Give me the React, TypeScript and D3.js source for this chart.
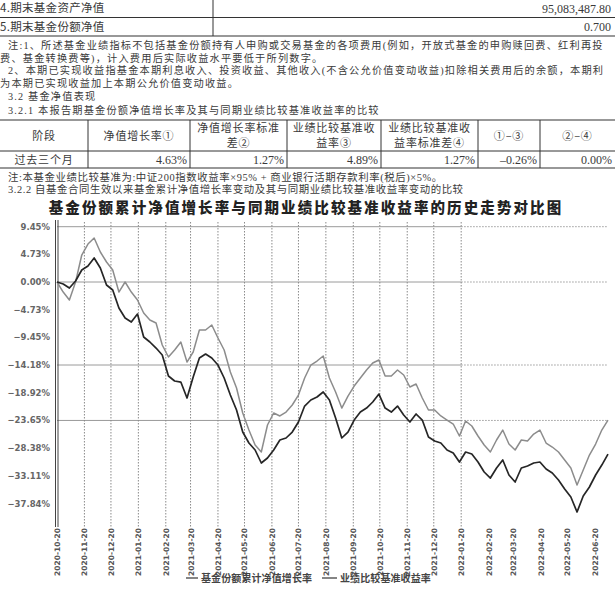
import React from 'react';
import * as d3 from 'd3';

const topRowLabels = ['4.期末基金资产净值', '5.期末基金份额净值'];
const topRowValues = ['95,083,487.80', '0.700'];

const noteLines = [
  '注:1、所述基金业绩指标不包括基金份额持有人申购或交易基金的各项费用(例如，开放式基金的申购赎回费、红利再投',
  '费、基金转换费等)，计入费用后实际收益水平要低于所列数字。',
  '2、本期已实现收益指基金本期利息收入、投资收益、其他收入(不含公允价值变动收益)扣除相关费用后的余额，本期利',
  '为本期已实现收益加上本期公允价值变动收益。',
];
const sectionTitle = '3.2 基金净值表现';
const subTitle1 = '3.2.1 本报告期基金份额净值增长率及其与同期业绩比较基准收益率的比较';
const tableHeaders = [
  ['阶段'],
  ['净值增长率①'],
  ['净值增长率标准', '差②'],
  ['业绩比较基准收', '益率③'],
  ['业绩比较基准收', '益率标准差④'],
  ['①–③'],
  ['②–④'],
];
const tableRow = ['过去三个月', '4.63%', '1.27%', '4.89%', '1.27%', '–0.26%', '0.00%'];
const benchNote = '注:本基金业绩比较基准为:中证200指数收益率×95% + 商业银行活期存款利率(税后)×5%。';
const subTitle2 = '3.2.2 自基金合同生效以来基金累计净值增长率变动及其与同期业绩比较基准收益率变动的比较';
const chartTitle = '基金份额累计净值增长率与同期业绩比较基准收益率的历史走势对比图';

const yTicks = [9.45, 4.73, 0, -4.73, -9.45, -14.18, -18.92, -23.65, -28.38, -33.11, -37.84];
const yGridValues = [9.45, 0, -14.18, -23.65];
const xTickLabels = [
  '2020-10-20', '2020-11-20', '2020-12-20', '2021-01-20', '2021-02-20', '2021-03-20', '2021-04-20',
  '2021-05-20', '2021-06-20', '2021-07-20', '2021-08-20', '2021-09-20', '2021-10-20', '2021-11-20',
  '2021-12-20', '2022-01-20', '2022-02-20', '2022-03-20', '2022-04-20', '2022-05-20', '2022-06-20',
];
const gridTickCount = 16;
const seriesStart = '2020-10-20';
const seriesStepDays = 7;
const legendLabels = ['基金份额累计净值增长率', '业绩比较基准收益率'];

const fundValues = [
  0.0, -0.34, -1.03, 0.17, 2.05, 2.73, 4.1, 2.39, -0.51, -1.37,
  -4.44, -6.15, -6.83, -5.47, -9.4, -10.25, -11.28, -12.47, -16.06, -16.91,
  -17.09, -19.82, -16.23, -12.98, -12.3, -12.98, -14.18, -16.4, -19.31, -21.87,
  -25.63, -27.51, -28.7, -30.92, -30.07, -28.7, -26.99, -26.65, -25.63, -23.92,
  -21.19, -20.16, -19.65, -18.79, -20.16, -23.24, -26.65, -25.63, -23.58, -22.21,
  -21.53, -20.5, -19.14, -21.53, -22.21, -21.19, -22.72, -23.92, -22.55, -23.58,
  -26.48, -27.17, -27.51, -28.7, -29.22, -30.75, -29.04, -29.39, -30.75, -32.46,
  -33.49, -31.78, -30.41, -32.97, -34.17, -31.78, -31.44, -30.92, -30.75, -31.95,
  -32.63, -33.83, -35.37, -36.73, -39.3, -36.56, -35.02, -32.97, -31.27, -29.4,
];
const benchValues = [
  0.0, -1.71, -3.08, 0.0, 4.61, 6.49, 7.52, 5.13, 3.42, 2.05,
  -1.71, 0.0, -1.71, -3.08, -5.3, -6.49, -7.0, -10.76, -12.81, -11.62,
  -10.25, -13.67, -11.96, -8.2, -8.2, -7.35, -9.57, -11.62, -15.38, -18.11,
  -22.38, -25.29, -27.85, -29.04, -24.43, -22.38, -22.89, -22.21, -21.01, -19.31,
  -16.4, -14.18, -13.5, -12.64, -16.4, -18.79, -21.53, -19.48, -17.77, -16.4,
  -15.03, -13.84, -13.33, -16.06, -16.06, -15.03, -15.89, -17.94, -17.43, -19.82,
  -21.87, -21.87, -22.89, -23.58, -24.26, -26.31, -23.75, -24.6, -26.31, -27.85,
  -29.04, -26.99, -25.29, -27.68, -28.7, -26.99, -27.17, -25.97, -25.29, -27.51,
  -28.19, -29.04, -30.41, -31.78, -34.68, -32.12, -29.56, -27.68, -25.29, -23.58,
];

const CJK = '"Noto Sans CJK SC", "Liberation Serif", serif';
const SERIF_CJK = '"Liberation Serif", "Noto Sans CJK SC", serif';
const NUM = '"Liberation Serif", "Noto Sans CJK SC", serif';
const TXT = '#3a3a3a';

export default function App() {
  const W = 615;
  const H = 591;
  const start = d3.timeParse('%Y-%m-%d')(seriesStart) as Date;
  const dates = fundValues.map((_, i) => d3.timeDay.offset(start, i * seriesStepDays));
  const x = d3.scaleTime().domain([dates[0], dates[dates.length - 1]]).range([57, 608]);
  const y = d3.scaleLinear().domain([-37.84, 9.45]).range([503.5, 226.7]);
  const parse = d3.timeParse('%Y-%m-%d');
  const tickX = xTickLabels.map((s) => x(parse(s) as Date));

  const line = d3
    .line<number>()
    .x((_, i) => x(dates[i]))
    .y((d) => y(d))
    .curve(d3.curveLinear);

  const colX = [0, 88, 190, 287, 381, 478, 540, 620];
  const tTop = 120;
  const tMid = 151;
  const tBot = 168;

  const plotLeft = 57;
  const plotRight = 608;
  const solidEnd = tickX[gridTickCount - 1];

  return (
    <svg
      width={W}
      height={H}
      viewBox={`0 0 ${W} ${H}`}
      style={{ position: 'absolute', left: 0, top: 0, background: '#fff' }}
    >
      <rect x={0} y={0} width={W} height={H} fill="#fff" />
      {/* top table */}
      <g fontFamily={CJK} fontSize={11.5} fill={TXT}>
        <line x1={0} x2={W} y1={17.5} y2={17.5} stroke="#333" strokeWidth={1} />
        <line x1={0} x2={W} y1={36} y2={36} stroke="#333" strokeWidth={1.2} />
        <line x1={213} x2={213} y1={0} y2={36} stroke="#333" strokeWidth={1} />
        {topRowLabels.map((t, i) => (
          <text key={t} x={0} y={12 + i * 18.5} letterSpacing={0.3}>
            {t}
          </text>
        ))}
        {topRowValues.map((t, i) => (
          <text key={t} x={611} y={12.5 + i * 18.5} textAnchor="end" fontFamily={NUM} fontSize={12}>
            {t}
          </text>
        ))}
      </g>
      {/* notes */}
      <g fontFamily={SERIF_CJK} fontSize={10.2} fill={TXT} letterSpacing={1.2}>
        {noteLines.map((t, i) => (
          <text key={i} x={i % 2 === 0 ? 8 : 0} y={49 + i * 12.5}>
            {t}
          </text>
        ))}
        <text x={8} y={100}>{sectionTitle}</text>
        <text x={8} y={114}>{subTitle1}</text>
      </g>
      {/* performance table */}
      <g>
        <line x1={0} x2={W} y1={tTop} y2={tTop} stroke="#333" strokeWidth={1.2} />
        <line x1={0} x2={W} y1={tMid} y2={tMid} stroke="#333" strokeWidth={1} />
        <line x1={0} x2={W} y1={tBot} y2={tBot} stroke="#333" strokeWidth={1.2} />
        {colX.slice(1, -1).map((cx) => (
          <line key={cx} x1={cx} x2={cx} y1={tTop} y2={tBot} stroke="#333" strokeWidth={1} />
        ))}
        {tableHeaders.map((lines, ci) => {
          const cx = (colX[ci] + Math.min(colX[ci + 1], W)) / 2;
          return lines.map((t, li) => (
            <text
              key={ci + '-' + li}
              x={cx}
              y={lines.length === 1 ? 140 : 132 + li * 15}
              textAnchor="middle"
              fontFamily={CJK}
              fontSize={11}
              letterSpacing={0.8}
              fill={TXT}
            >
              {t}
            </text>
          ));
        })}
        {tableRow.map((t, ci) =>
          ci === 0 ? (
            <text key={ci} x={44} y={164} textAnchor="middle" fontFamily={CJK} fontSize={11} letterSpacing={0.8} fill={TXT}>
              {t}
            </text>
          ) : (
            <text key={ci} x={Math.min(colX[ci + 1], W) - 3} y={164} textAnchor="end" fontFamily={NUM} fontSize={12} fill={TXT}>
              {t}
            </text>
          )
        )}
      </g>
      <g fontFamily={SERIF_CJK} fontSize={10.4} fill={TXT} letterSpacing={0.6}>
        <text x={8} y={180.5}>{benchNote}</text>
        <text x={8} y={193}>{subTitle2}</text>
      </g>
      {/* chart title */}
      <text x={306} y={213} textAnchor="middle" fontFamily={CJK} fontSize={14.5} fontWeight={900} letterSpacing={2.1} fill="#222">
        {chartTitle}
      </text>
      {/* horizontal grid */}
      {yGridValues.map((v) => (
        <g key={v}>
          <line x1={plotLeft} x2={solidEnd} y1={y(v)} y2={y(v)} stroke="#9a9a9a" strokeWidth={1} />
          <line x1={solidEnd} x2={plotRight} y1={y(v)} y2={y(v)} stroke="#9a9a9a" strokeWidth={1} strokeDasharray="1.5,1.5" />
        </g>
      ))}
      {/* vertical grid */}
      {tickX.slice(1, gridTickCount).map((tx, i) => (
        <line key={i} x1={tx} x2={tx} y1={222} y2={527} stroke="#8a8a8a" strokeWidth={1} strokeDasharray="1.5,1.5" />
      ))}
      {/* y axis double line */}
      <line x1={55.5} x2={55.5} y1={220} y2={527} stroke="#444" strokeWidth={1} />
      <line x1={58} x2={58} y1={220} y2={527} stroke="#444" strokeWidth={1} />
      {/* y labels */}
      {yTicks.map((v) => (
        <text key={v} x={50} y={y(v) + 3} textAnchor="end" fontFamily="DejaVu Sans" fontSize={8.5} fontWeight="bold" fill="#666">
          {d3.format('.2f')(v) + '%'}
        </text>
      ))}
      {/* x labels */}
      {xTickLabels.map((s, i) => (
        <text
          key={s}
          transform={`translate(${tickX[i] + 3},528) rotate(-90)`}
          textAnchor="end"
          fontFamily="DejaVu Sans"
          fontSize={7.5}
          fontWeight="bold"
          fill="#555"
        >
          {s}
        </text>
      ))}
      {/* series */}
      <path d={line(benchValues) || ''} fill="none" stroke="#8c8c8c" strokeWidth={1.5} strokeLinejoin="round" />
      <path d={line(fundValues) || ''} fill="none" stroke="#262626" strokeWidth={1.7} strokeLinejoin="round" />
      {/* legend */}
      <g fontFamily={CJK} fontSize={10} fontWeight="bold" fill="#444">
        <line x1={186} x2={198} y1={578} y2={578} stroke="#333" strokeWidth={1.2} />
        <text x={201} y={581.5} letterSpacing={0.1}>{legendLabels[0]}</text>
        <line x1={322} x2={337} y1={578} y2={578} stroke="#333" strokeWidth={1.2} />
        <text x={340} y={581.5} letterSpacing={0.1}>{legendLabels[1]}</text>
      </g>
    </svg>
  );
}
